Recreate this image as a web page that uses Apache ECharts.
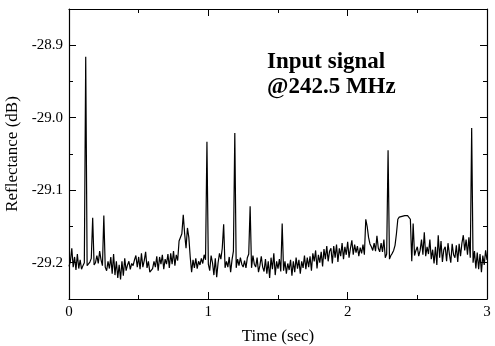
<!DOCTYPE html>
<html>
<head>
<meta charset="utf-8">
<script src="https://cdn.jsdelivr.net/npm/echarts@6/dist/echarts.min.js"></script>
<style>
html,body{margin:0;padding:0;background:#fff;}
#chart{width:495px;height:346px;}
</style>
</head>
<body>
<div id="chart"></div>
<script>
// Sample grid (seconds)
const timeStart = 0;
const timeStep = 0.01;

// Reflectance (dB), one value per 0.01 s, 0.00 .. 3.00 s
const reflectance = [
  -29.205,-29.198,-29.180,-29.206,-29.192,-29.210,-29.188,-29.208,-29.196,-29.209,
  -29.204,-29.200,-28.916,-29.204,-29.206,-29.199,-29.194,-29.138,-29.203,-29.200,
  -29.190,-29.201,-29.184,-29.196,-29.204,-29.135,-29.206,-29.211,-29.198,-29.208,
  -29.192,-29.215,-29.188,-29.217,-29.198,-29.221,-29.203,-29.223,-29.198,-29.218,
  -29.194,-29.211,-29.203,-29.198,-29.209,-29.201,-29.204,-29.196,-29.190,-29.206,
  -29.192,-29.209,-29.187,-29.206,-29.197,-29.185,-29.207,-29.198,-29.213,-29.214,
  -29.208,-29.198,-29.206,-29.191,-29.211,-29.192,-29.202,-29.189,-29.209,-29.195,
  -29.202,-29.188,-29.207,-29.187,-29.202,-29.184,-29.204,-29.189,-29.197,-29.170,
  -29.172,-29.160,-29.134,-29.160,-29.180,-29.152,-29.165,-29.192,-29.213,-29.196,
  -29.207,-29.194,-29.208,-29.198,-29.203,-29.194,-29.201,-29.189,-29.196,-29.033,
  -29.202,-29.211,-29.190,-29.200,-29.217,-29.194,-29.220,-29.200,-29.187,-29.195,
  -29.180,-29.147,-29.207,-29.198,-29.206,-29.192,-29.213,-29.196,-29.184,-29.021,
  -29.207,-29.195,-29.204,-29.193,-29.202,-29.206,-29.197,-29.207,-29.193,-29.188,
  -29.122,-29.207,-29.190,-29.202,-29.206,-29.193,-29.213,-29.204,-29.191,-29.206,
  -29.212,-29.195,-29.215,-29.198,-29.221,-29.193,-29.209,-29.187,-29.217,-29.198,
  -29.208,-29.195,-29.212,-29.146,-29.211,-29.198,-29.215,-29.201,-29.210,-29.196,
  -29.218,-29.198,-29.213,-29.193,-29.208,-29.196,-29.215,-29.198,-29.207,-29.190,
  -29.209,-29.193,-29.206,-29.191,-29.211,-29.187,-29.198,-29.183,-29.208,-29.189,
  -29.200,-29.185,-29.205,-29.181,-29.195,-29.177,-29.198,-29.184,-29.180,-29.201,
  -29.177,-29.193,-29.175,-29.199,-29.180,-29.191,-29.173,-29.195,-29.178,-29.189,
  -29.171,-29.193,-29.180,-29.169,-29.189,-29.175,-29.186,-29.177,-29.191,-29.179,
  -29.187,-29.175,-29.189,-29.140,-29.150,-29.165,-29.174,-29.178,-29.183,-29.173,
  -29.184,-29.163,-29.180,-29.185,-29.173,-29.185,-29.168,-29.193,-29.188,-29.045,
  -29.195,-29.190,-29.187,-29.183,-29.176,-29.160,-29.140,-29.137,-29.139,-29.136,
  -29.137,-29.135,-29.134,-29.135,-29.133,-29.140,-29.198,-29.146,-29.190,-29.183,
  -29.178,-29.191,-29.183,-29.168,-29.189,-29.158,-29.191,-29.178,-29.188,-29.168,
  -29.195,-29.182,-29.201,-29.178,-29.203,-29.162,-29.193,-29.170,-29.199,-29.182,
  -29.178,-29.198,-29.173,-29.188,-29.200,-29.174,-29.189,-29.193,-29.176,-29.199,
  -29.174,-29.191,-29.173,-29.162,-29.183,-29.168,-29.189,-29.165,-29.193,-29.014,
  -29.200,-29.184,-29.208,-29.186,-29.209,-29.188,-29.213,-29.190,-29.203,-29.183,
  -29.196
];

const xTickLabels = ['0', '1', '2', '3'];
const yTickLabels = ['-29.2', '-29.1', '-29.0', '-28.9'];
const xTitle = 'Time (sec)';
const yTitle = 'Reflectance (dB)';
const annotationLines = ['Input signal', '@242.5 MHz'];

const seriesData = reflectance.map((v, i) => [timeStart + i * timeStep, v]);

const FONT = "'Liberation Serif', 'DejaVu Serif', serif";
const lineStyle = { color: '#000', width: 1.2 };

function xAxisCfg(pos, showLabel) {
  return {
    type: 'value', position: pos, min: 0, max: 3, interval: 1,
    axisLine: { show: true, onZero: false, lineStyle: lineStyle },
    axisTick: { show: true, inside: true, length: 7, lineStyle: { color: '#000', width: 1 } },
    minorTick: { show: true, splitNumber: 2, length: 4, lineStyle: { color: '#000', width: 1 } },
    splitLine: { show: false },
    axisLabel: {
      show: showLabel, margin: 6, color: '#000', fontFamily: FONT, fontSize: 15,
      formatter: function (v) { const i = Math.round(v); return xTickLabels[i] !== undefined ? xTickLabels[i] : ''; }
    },
    name: showLabel ? xTitle : '', nameLocation: 'middle', nameGap: 29,
    nameTextStyle: { color: '#000', fontFamily: FONT, fontSize: 17 }
  };
}
function yAxisCfg(pos, showLabel) {
  return {
    type: 'value', position: pos, min: -29.25, max: -28.85, splitNumber: 4,
    axisLine: { show: true, onZero: false, lineStyle: lineStyle },
    axisTick: { show: true, inside: true, length: 7, lineStyle: { color: '#000', width: 1 } },
    minorTick: { show: true, splitNumber: 2, length: 4, lineStyle: { color: '#000', width: 1 } },
    splitLine: { show: false },
    axisLabel: {
      show: showLabel, margin: 6, color: '#000', fontFamily: FONT, fontSize: 15,
      showMinLabel: false, showMaxLabel: false,
      formatter: function (v) {
        const idx = Math.round((v + 29.2) / 0.1);
        if (Math.abs(v - (-29.2 + idx * 0.1)) > 1e-6) return '';
        return yTickLabels[idx] !== undefined ? yTickLabels[idx] : '';
      }
    },
    name: showLabel ? yTitle : '', nameLocation: 'middle', nameGap: 38,
    nameTextStyle: { color: '#000', fontFamily: FONT, fontSize: 17 }
  };
}

const chart = echarts.init(document.getElementById('chart'), null, { renderer: 'canvas' });
chart.setOption({
  backgroundColor: '#fff',
  animation: false,
  grid: { left: 69, right: 8, top: 9, bottom: 47, containLabel: false, outerBoundsMode: 'none' },
  xAxis: [xAxisCfg('bottom', true), xAxisCfg('top', false)],
  yAxis: [yAxisCfg('left', true), yAxisCfg('right', false)],
  series: [{
    type: 'line', xAxisIndex: 0, yAxisIndex: 0,
    data: seriesData, showSymbol: false, symbol: 'none',
    lineStyle: { color: '#000', width: 1.2 }, clip: true
  }],
  graphic: [
    { type: 'text', left: 267, top: 51, style: { text: annotationLines[0], fill: '#000', font: "bold 23px 'Liberation Serif', serif" } },
    { type: 'text', left: 267, top: 76, style: { text: annotationLines[1], fill: '#000', font: "bold 23px 'Liberation Serif', serif" } }
  ]
});
</script>
</body>
</html>
